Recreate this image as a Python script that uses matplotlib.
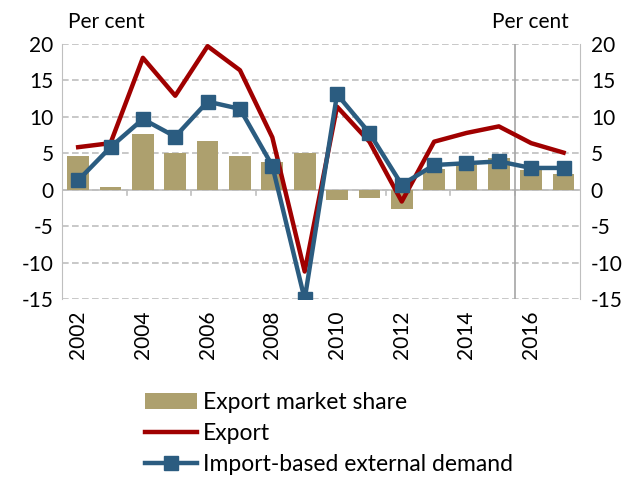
import matplotlib.pyplot as plt

years = list(range(2002, 2018))
market_share = [4.6, 0.45, 7.7, 5.1, 6.7, 4.6, 3.75, 5.0, -1.4, -1.1, -2.6, 2.8, 3.4, 4.4, 2.7, 2.2]
export = [5.85, 6.4, 18.1, 12.9, 19.7, 16.4, 7.2, -11.2, 11.4, 6.6, -1.6, 6.6, 7.8, 8.7, 6.4, 5.1]
ext_demand = [1.3, 5.85, 9.7, 7.3, 12.1, 11.1, 3.3, -15.0, 13.1, 7.8, 0.7, 3.4, 3.65, 3.9, 3.0, 3.0]
yticks = [-15, -10, -5, 0, 5, 10, 15, 20]

TAN = "#ADA06E"
RED = "#A00000"
BLUE = "#2B5C80"
GRID = "#BFBFBF"

plt.rcParams['font.family'] = ['Lato', 'DejaVu Sans']
plt.rcParams['font.size'] = 15
plt.rcParams['axes.unicode_minus'] = False

fig = plt.figure(figsize=(6.35, 4.78), dpi=100)
ax = fig.add_axes([0.0976, 0.374, 0.8154, 0.534])

ax.set_ylim(-15, 20)
ax.set_xlim(years[0] - 0.5, years[-1] + 0.5)
ax.set_yticks(yticks)
ax.yaxis.grid(True, color=GRID, linestyle=(0, (4, 2)), linewidth=1.2)
ax.set_axisbelow(True)

bars = ax.bar(years, market_share, width=0.67, color=TAN, label="Export market share", zorder=2)
l1, = ax.plot(years, export, color=RED, linewidth=3.2, label="Export", zorder=3)
l2, = ax.plot(years, ext_demand, color=BLUE, linewidth=3.2, marker='s', markersize=10,
              label="Import-based external demand", zorder=4)

# zero line with category ticks
ax.axhline(0, color=GRID, linewidth=1.2, zorder=1)
for b in range(years[0], years[-1] + 1, 2):
    ax.plot([b - 0.5, b - 0.5], [0, -0.7], color=GRID, linewidth=1.2, zorder=1)
ax.axvline(2015.5, color="#A6A6A6", linewidth=1.2, zorder=1)

for s in ['top', 'bottom']:
    ax.spines[s].set_visible(False)
for s in ['left', 'right']:
    ax.spines[s].set_color(GRID)

ax.set_xticks(years[::2])
ax.set_xticklabels([str(y) for y in years[::2]], rotation=90)
ax.tick_params(axis='x', length=0, pad=8)
ax.tick_params(axis='y', length=0, pad=6)

ax2 = ax.twinx()
ax2.set_ylim(ax.get_ylim())
ax2.set_yticks(yticks)
ax2.tick_params(axis='y', length=0, pad=8)
for s in ['top', 'bottom', 'left', 'right']:
    ax2.spines[s].set_visible(False)

fig.text(0.107, 0.955, "Per cent", ha='left', va='center')
fig.text(0.895, 0.955, "Per cent", ha='right', va='center')

fig.legend([bars, l1, l2], ["Export market share", "Export", "Import-based external demand"],
           loc='upper left', bbox_to_anchor=(0.228, 0.18), frameon=False, fontsize=16.5,
           handlelength=2.3, handletextpad=0.25, labelspacing=0.44, borderaxespad=0,
           borderpad=0)

fig.savefig("out.png", dpi=100)
